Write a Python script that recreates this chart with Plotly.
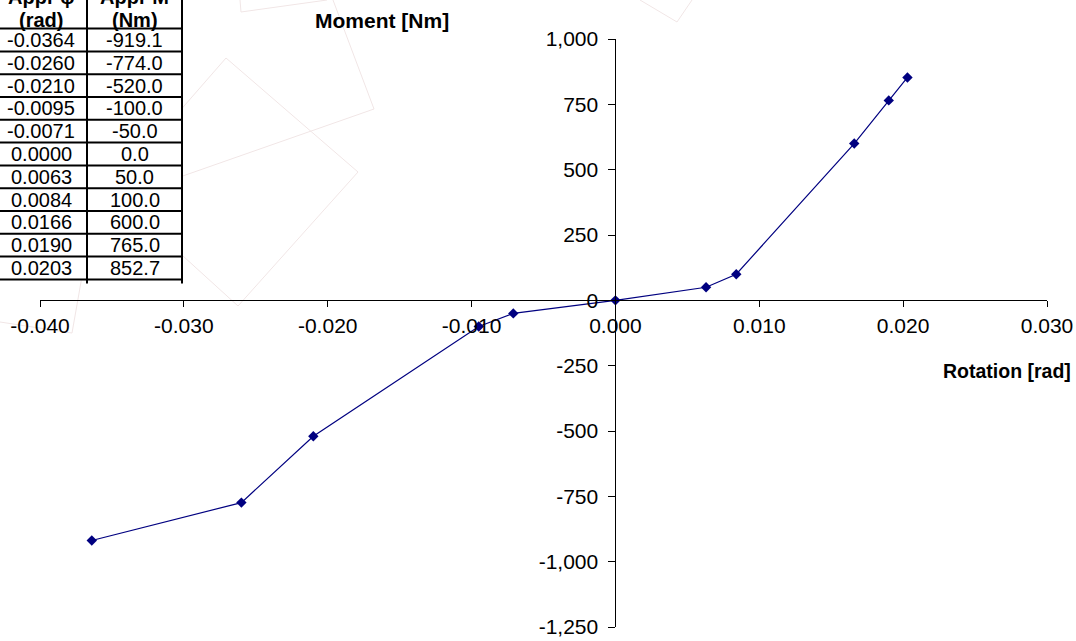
import plotly.graph_objects as go

# ---------------- data ----------------
rotation = [-0.0364, -0.0260, -0.0210, -0.0095, -0.0071, 0.0000, 0.0063, 0.0084, 0.0166, 0.0190, 0.0203]
moment = [-919.1, -774.0, -520.0, -100.0, -50.0, 0.0, 50.0, 100.0, 600.0, 765.0, 852.7]

x_tickvals = [-0.04, -0.03, -0.02, -0.01, 0.0, 0.01, 0.02, 0.03]
x_ticktext = ["-0.040", "-0.030", "-0.020", "-0.010", "0.000", "0.010", "0.020", "0.030"]
y_tickvals = [1000, 750, 500, 250, 0, -250, -500, -750, -1000, -1250]
y_ticktext = ["1,000", "750", "500", "250", "0", "-250", "-500", "-750", "-1,000", "-1,250"]

table_headers = [("Appr \u03c6", "(rad)"), ("Appr M", "(Nm)")]
x_title = "Rotation [rad]"
y_title = "Moment [Nm]"

# ---------------- layout helpers (screen pixels) ----------------
W, H = 1076, 641
L, R, T, B = 40, 1047, 39, 627
X_RANGE = [-0.04, 0.03]
Y_RANGE = [-1250, 1000]


def fx(px):
    return (px - L) / (R - L)


def fy(py):
    return (B - py) / (B - T)


FONT = "Liberation Sans, Arial, sans-serif"
NAVY = "#000080"

fig = go.Figure()
fig.add_trace(go.Scatter(
    x=rotation, y=moment, mode="lines+markers",
    line=dict(color=NAVY, width=1.2),
    marker=dict(symbol="diamond", size=8, color=NAVY),
    showlegend=False, hoverinfo="x+y",
))

shapes = []
# faint watermark lines
wm = [
    [(240, 0), (241, 12), (327, 0)],
    [(333, 0), (374, 109), (100, 205)],
    [(150, 145), (226, 58), (358, 172), (238, 306), (150, 226)],
    [(84, 265), (72, 333), (0, 322)],
    [(640, 0), (677, 22), (692, 0)],
]
for poly in wm:
    for (x0, y0), (x1, y1) in zip(poly[:-1], poly[1:]):
        shapes.append(dict(type="line", xref="paper", yref="paper",
                           x0=fx(x0), y0=fy(y0), x1=fx(x1), y1=fy(y1),
                           line=dict(color="#f1e6e6", width=1), layer="below"))

# table
row_top = 28.6
row_h = 22.8
n = len(rotation)
tbl_bottom = row_top + row_h * n
col_edges = [0, 87, 182]
shapes.append(dict(type="rect", xref="paper", yref="paper",
                   x0=fx(-2), x1=fx(183), y0=fy(-2), y1=fy(tbl_bottom + 1),
                   fillcolor="white", line=dict(width=0), layer="above"))
for k in range(n + 1):
    yy = row_top + row_h * k
    shapes.append(dict(type="line", xref="paper", yref="paper",
                       x0=fx(-2), x1=fx(183), y0=fy(yy), y1=fy(yy),
                       line=dict(color="black", width=2), layer="above"))
for xx in col_edges[1:]:
    shapes.append(dict(type="line", xref="paper", yref="paper",
                       x0=fx(xx), x1=fx(xx), y0=fy(-2), y1=fy(tbl_bottom + 4),
                       line=dict(color="black", width=2), layer="above"))

annotations = []
col_centers = [41, 134.5]
for c, (h1, h2) in enumerate(table_headers):
    annotations.append(dict(text="<b>%s</b>" % h1, x=fx(col_centers[c]), y=fy(-3),
                            xref="paper", yref="paper", showarrow=False,
                            xanchor="center", yanchor="middle",
                            font=dict(family=FONT, size=20, color="black")))
    annotations.append(dict(text="<b>%s</b>" % h2, x=fx(col_centers[c]), y=fy(20),
                            xref="paper", yref="paper", showarrow=False,
                            xanchor="center", yanchor="middle",
                            font=dict(family=FONT, size=20, color="black")))
for i, (r, m) in enumerate(zip(rotation, moment)):
    yc = row_top + row_h * (i + 0.5)
    for c, txt in enumerate(["%.4f" % r, "%.1f" % m]):
        annotations.append(dict(text=txt, x=fx(col_centers[c]), y=fy(yc),
                                xref="paper", yref="paper", showarrow=False,
                                xanchor="center", yanchor="middle",
                                font=dict(family=FONT, size=20, color="black")))

# axis titles
annotations.append(dict(text="<b>%s</b>" % y_title, x=fx(382), y=fy(20),
                        xref="paper", yref="paper", showarrow=False,
                        xanchor="center", yanchor="middle",
                        font=dict(family=FONT, size=21, color="black")))
annotations.append(dict(text="<b>%s</b>" % x_title, x=fx(1007), y=fy(371),
                        xref="paper", yref="paper", showarrow=False,
                        xanchor="center", yanchor="middle",
                        font=dict(family=FONT, size=19.5, color="black")))

x_pos = (0 - Y_RANGE[0]) / (Y_RANGE[1] - Y_RANGE[0])
y_pos = (0 - X_RANGE[0]) / (X_RANGE[1] - X_RANGE[0])

fig.update_layout(
    width=W, height=H,
    margin=dict(l=L, r=W - R, t=T, b=H - B, pad=0),
    paper_bgcolor="white", plot_bgcolor="rgba(0,0,0,0)",
    font=dict(family=FONT, size=21, color="black"),
    shapes=shapes, annotations=annotations,
    xaxis=dict(range=X_RANGE, anchor="free", position=x_pos,
               tickvals=x_tickvals, ticktext=x_ticktext,
               showgrid=False, zeroline=False, showline=True,
               linecolor="black", linewidth=1.3, ticks="outside",
               ticklen=6, tickcolor="black", tickwidth=1,
               tickfont=dict(family=FONT, size=21, color="black"),
               automargin=False, fixedrange=True),
    yaxis=dict(range=Y_RANGE, anchor="free", position=y_pos,
               tickvals=y_tickvals, ticktext=y_ticktext,
               showgrid=False, zeroline=False, showline=True,
               linecolor="black", linewidth=1, ticks="outside",
               ticklen=7, tickcolor="black", tickwidth=1,
               ticklabelstandoff=6,
               tickfont=dict(family=FONT, size=21, color="black"),
               automargin=False, fixedrange=True),
)

fig.write_html("out.html", config={"displayModeBar": False},
               post_script="document.body.style.margin='0px';document.body.style.overflow='hidden';")
